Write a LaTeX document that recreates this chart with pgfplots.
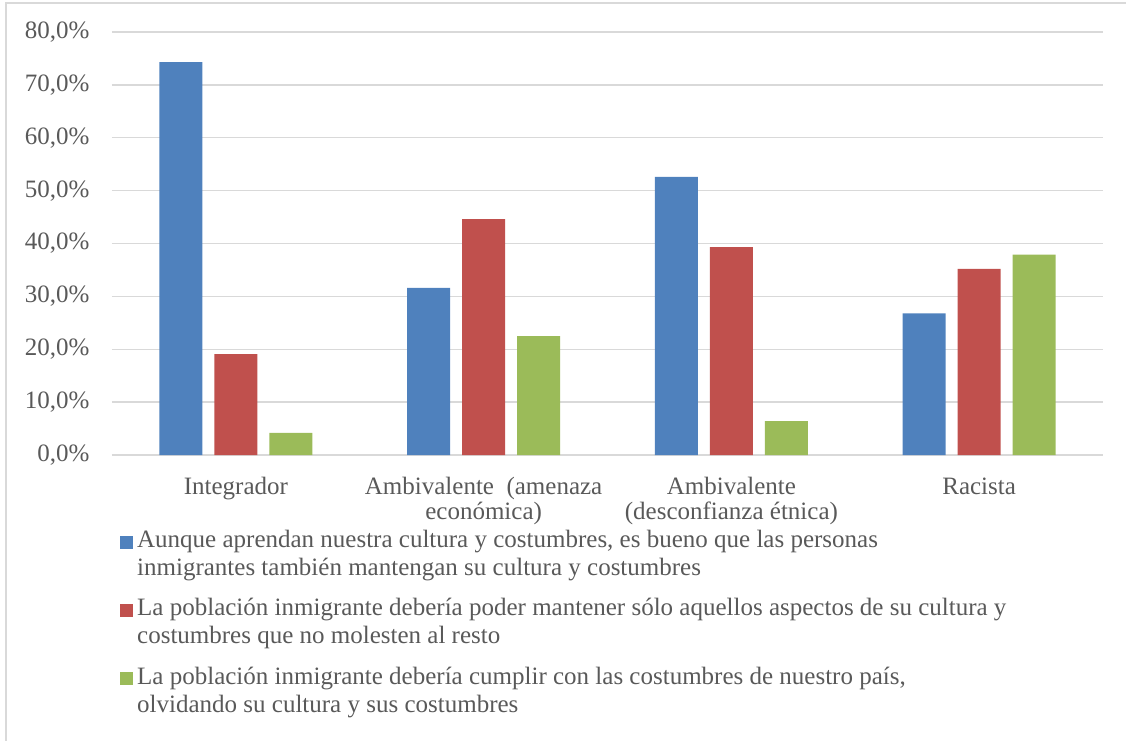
\documentclass[border=0pt]{standalone}
\usepackage{fontspec}
\setmainfont{Liberation Serif}
\usepackage{pgfplots}
\pgfplotsset{compat=1.18}
\definecolor{sBlue}{HTML}{4F81BD}
\definecolor{sRed}{HTML}{C0504D}
\definecolor{sGreen}{HTML}{9BBB59}
\definecolor{gridgray}{HTML}{D9D9D9}
\definecolor{txtgray}{HTML}{595959}
\begin{document}
\begin{tikzpicture}[font=\fontsize{25}{28}\selectfont]
\useasboundingbox (-112pt,-285pt) rectangle (1014pt,455pt);
\begin{axis}[
  at={(0pt,0pt)}, anchor=south west,
  width=991pt, height=423pt, scale only axis,
  xmin=-0.5, xmax=3.5, ymin=0, ymax=80,
  ybar=12pt, bar width=43pt,
  axis lines*=left, axis line style={draw=none},
  xtick={0,1,2,3},
  xticklabels={Integrador, Ambivalente\ \ (amenaza\\económica), Ambivalente\\(desconfianza étnica), Racista},
  xticklabel style={align=center, text=txtgray, font=\fontsize{25}{25}\selectfont, anchor=north, yshift=-19pt},
  major tick length=0pt,
  ytick={0,10,...,80},
  ymajorgrids, grid style={draw=gridgray, line width=1.3pt},
  /pgf/number format/assume math mode=true,
  yticklabel={\pgfmathprintnumber[fixed,fixed zerofill,precision=1,use comma]{\tick}\%},
  yticklabel style={text=txtgray, xshift=-19pt},
  legend style={at={(axis description cs:0,0)}, anchor=north west, xshift=8pt, yshift=-69pt,
    draw=none, fill=none, text=txtgray, row sep=43pt, inner xsep=0pt,
    nodes={anchor=base west, inner xsep=4pt}},
  legend cell align=left,
  legend image code/.code={\fill[#1] (0pt,-1pt) rectangle (13pt,12pt);},
]
\addplot[fill=sBlue, draw=none] coordinates {(0,74.3) (1,31.6) (2,52.6) (3,26.8)};
\addplot[fill=sRed, draw=none] coordinates {(0,19.1) (1,44.6) (2,39.3) (3,35.2)};
\addplot[fill=sGreen, draw=none] coordinates {(0,4.2) (1,22.5) (2,6.4) (3,37.9)};
\legend{
  {\begin{tabular}[t]{@{}l@{}}Aunque aprendan nuestra cultura y costumbres, es bueno que las personas\\inmigrantes también mantengan su cultura y costumbres\end{tabular}},
  {\begin{tabular}[t]{@{}l@{}}La población inmigrante debería poder mantener sólo aquellos aspectos de su cultura y\\costumbres que no molesten al resto\end{tabular}},
  {\begin{tabular}[t]{@{}l@{}}La población inmigrante debería cumplir con las costumbres de nuestro país,\\olvidando su cultura y sus costumbres\end{tabular}}
}
\end{axis}
\draw[gridgray, line width=1.3pt] (-106pt,-300pt) -- (-106pt,452pt) -- (1030pt,452pt);
\end{tikzpicture}
\end{document}
